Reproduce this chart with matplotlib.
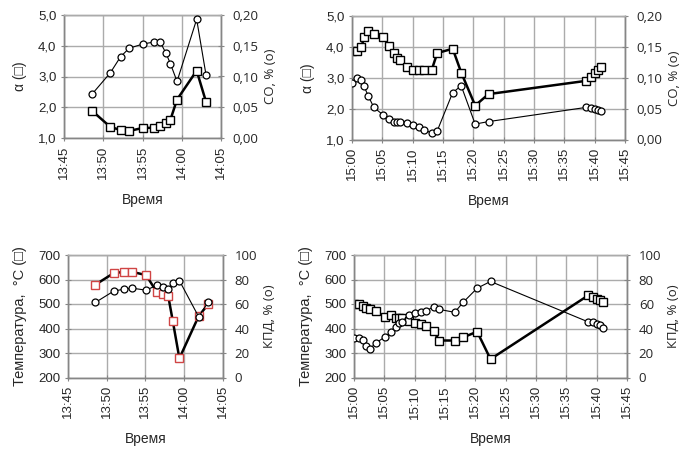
import numpy as np
import pandas as pd
import matplotlib
matplotlib.use('Agg')
import matplotlib.pyplot as plt
import matplotlib.dates as mdates
from matplotlib.ticker import FuncFormatter, MultipleLocator

''' DADOS '''
# primeiro ensaio (13:45 - 14:05)
t1 = ['13:48:33', '13:50:54', '13:52:12', '13:53:18', '13:55:06', '13:56:27',
      '13:57:15', '13:57:57', '13:58:33', '13:59:24', '14:01:54', '14:03:06']
alpha1 = [1.89, 1.36, 1.26, 1.23, 1.33, 1.33, 1.39, 1.50, 1.59, 2.25, 3.19, 2.17]
co1 = [0.071, 0.106, 0.132, 0.146, 0.153, 0.156, 0.156, 0.139, 0.121, 0.092, 0.193, 0.102]
temp1 = [579, 626, 631, 631, 618, 550, 539, 534, 430, 278, 451, 498]
kpd1 = [61.3, 70.5, 72.1, 72.9, 71.3, 75.2, 74.1, 72.2, 77.5, 79.1, 49.5, 61.4]

# segundo ensaio (15:00 - 15:45)
t2 = ['15:00:00', '15:00:54', '15:01:33', '15:02:00', '15:02:39', '15:03:36',
      '15:05:06', '15:06:06', '15:06:51', '15:07:24', '15:07:51', '15:09:03',
      '15:10:00', '15:11:06', '15:11:57', '15:13:09', '15:14:03', '15:16:36',
      '15:18:00', '15:20:18', '15:22:30', '15:38:36', '15:39:24', '15:40:00',
      '15:40:30', '15:41:00']
alpha2 = [3.87, 3.87, 4.00, 4.31, 4.50, 4.43, 4.33, 4.03, 3.79, 3.64, 3.58, 3.34,
          3.26, 3.26, 3.26, 3.26, 3.80, 3.94, 3.17, 2.10, 2.47, 2.90, 3.02, 3.15,
          3.26, 3.35]
co2 = [0.091, 0.100, 0.096, 0.086, 0.071, 0.052, 0.040, 0.033, 0.029, 0.029, 0.029,
       0.027, 0.024, 0.021, 0.016, 0.010, 0.014, 0.076, 0.087, 0.025, 0.029, 0.052,
       0.051, 0.049, 0.047, 0.046]
temp2 = [502, 500, 493, 484, 480, 471, 447, 455, 442, 443, 444, 430, 424, 418, 411,
         388, 351, 351, 364, 387, 275, 535, 528, 522, 518, 507]
kpd2 = [32.6, 32.6, 30.4, 25.7, 23.5, 28.2, 33.1, 37.2, 41.3, 44.1, 45.4, 50.9, 52.3,
        53.5, 54.5, 57.8, 55.6, 53.2, 61.4, 72.9, 78.4, 45.4, 44.9, 43.5, 42.5, 40.8]

t1 = pd.to_datetime(['2000-01-01 ' + s for s in t1])
t2 = pd.to_datetime(['2000-01-01 ' + s for s in t2])

''' ESTILO '''
W, H = 687, 450
FL = ['Liberation Sans', 'DejaVu Sans']
FR = ['Open Sans', 'DejaVu Sans']
GRID = '#ababab'
SPINE = '#868686'
TXT = '#262626'

fig = plt.figure(figsize=(W / 100, H / 100), dpi=100)


def box(x0, x1, y0, y1):
    return [x0 / W, 1 - y1 / H, (x1 - x0) / W, (y1 - y0) / H]


def comma(fmt):
    return FuncFormatter(lambda v, p: format(v, fmt).replace('.', ','))


def painel(pos, t, sq, ci, xlim, ylim, ystep, yfmt, ylim2, ystep2, yfmt2,
           ylabel, ylabel2, sqedge='black', ylsize=10):
    ax = fig.add_axes(box(*pos))
    ax2 = ax.twinx()

    ax.plot(t, sq, '-', color='black', lw=1.8, marker='s', ms=5.2,
            mfc='white', mec=sqedge, mew=1.0, zorder=3)
    ax2.plot(t, ci, '-', color='black', lw=0.8, marker='o', ms=5.0,
             mfc='white', mec='black', mew=0.9, zorder=3)

    ax.set_xlim(pd.Timestamp('2000-01-01 ' + xlim[0]), pd.Timestamp('2000-01-01 ' + xlim[1]))
    ax.xaxis.set_major_locator(mdates.MinuteLocator(byminute=range(0, 60, 5)))
    ax.xaxis.set_major_formatter(mdates.DateFormatter('%H:%M'))
    ax.set_ylim(*ylim)
    ax.yaxis.set_major_locator(MultipleLocator(ystep))
    ax.yaxis.set_major_formatter(comma(yfmt))
    ax2.set_ylim(*ylim2)
    ax2.yaxis.set_major_locator(MultipleLocator(ystep2))
    ax2.yaxis.set_major_formatter(comma(yfmt2))

    ax.grid(True, color=GRID, lw=1.0)
    ax.set_axisbelow(True)
    for a in (ax, ax2):
        for s in a.spines.values():
            s.set_color(SPINE)
            s.set_linewidth(1.0)
        a.spines['top'].set_color(GRID)

    ax.tick_params(axis='x', direction='inout', length=5, color=SPINE, pad=3)
    ax.tick_params(axis='y', direction='inout', length=5, color=SPINE, pad=3)
    ax2.tick_params(axis='y', direction='inout', length=5, color=SPINE, pad=6)
    for lab in ax.get_xticklabels():
        lab.set_rotation(90)
        lab.set_family(FL)
        lab.set_fontsize(9.5)
        lab.set_color(TXT)
    for lab in ax.get_yticklabels():
        lab.set_family(FL)
        lab.set_fontsize(9.5)
        lab.set_color(TXT)
    for lab in ax2.get_yticklabels():
        lab.set_family(FR)
        lab.set_fontsize(9.5)
        lab.set_color(TXT)

    ax.set_xlabel('Время', family=FL, fontsize=10, color=TXT, labelpad=10)
    ax.set_ylabel(ylabel, family=FL, fontsize=ylsize, color=TXT, labelpad=8)
    ax2.set_ylabel(ylabel2, family=FR, fontsize=9.5, color=TXT, labelpad=4)
    return ax, ax2


painel((64, 221, 15, 138), t1, alpha1, co1, ('13:45', '14:05'),
       (1, 5), 1, '.1f', (0, 0.2), 0.05, '.2f', 'α (□)', 'CO, % (o)')
painel((352, 625, 16, 139.5), t2, alpha2, co2, ('15:00', '15:45'),
       (1, 5), 1, '.1f', (0, 0.2), 0.05, '.2f', 'α (□)', 'CO, % (o)')
painel((68, 222.7, 255, 377.5), t1, temp1, kpd1, ('13:45', '14:05'),
       (200, 700), 100, '.0f', (0, 100), 20, '.0f', 'Температура,  °C (□)',
       'КПД, % (o)', sqedge='#d04545', ylsize=10.5)
painel((354, 627, 255, 377.5), t2, temp2, kpd2, ('15:00', '15:45'),
       (200, 700), 100, '.0f', (0, 100), 20, '.0f', 'Температура,  °C (□)',
       'КПД, % (o)', ylsize=10.5)

fig.savefig('out.png', dpi=100)
